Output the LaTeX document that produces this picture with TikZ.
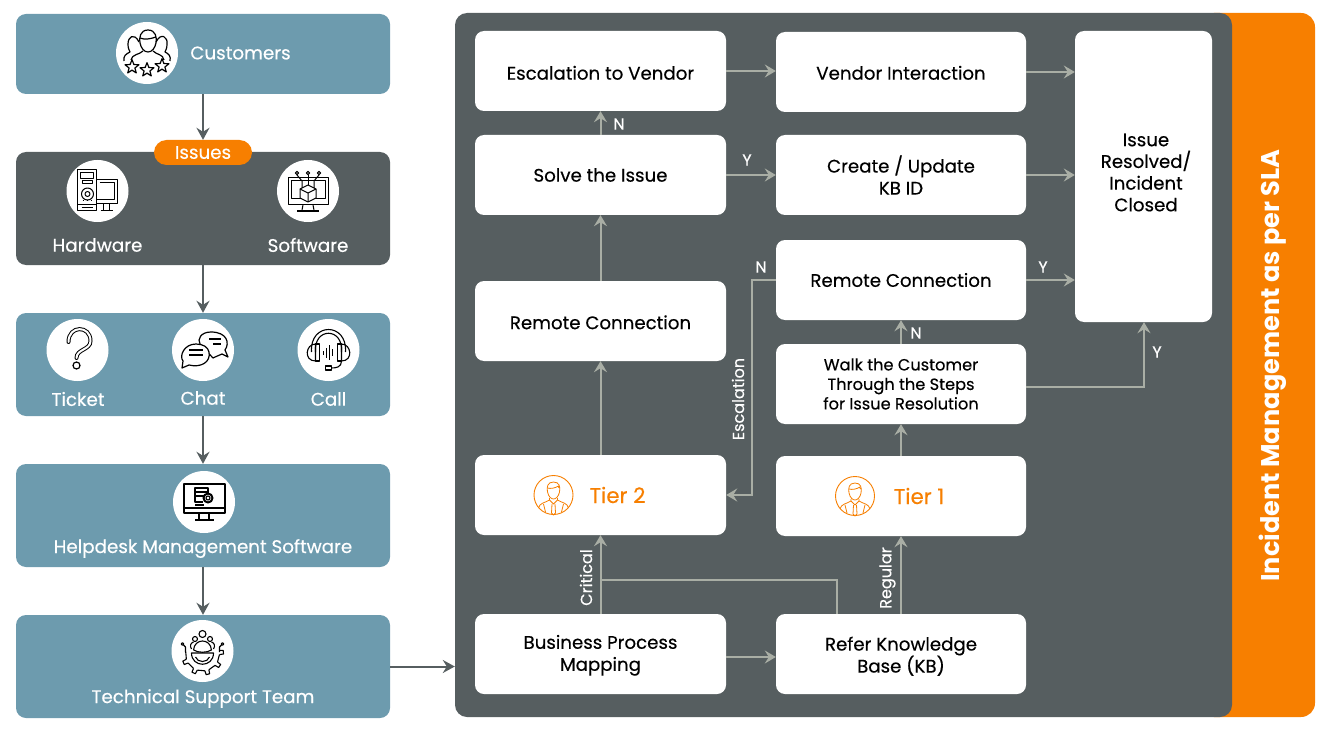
\documentclass[tikz,border=0pt]{standalone}
\usepackage{fontspec}
\setmainfont{Poppins}
\newfontfamily\labelfont{Poppins}[RawFeature={embolden=0.35}]
\usetikzlibrary{arrows.meta,positioning}
\definecolor{tealbox}{HTML}{6D9BAE}
\definecolor{darkbox}{HTML}{565E60}
\definecolor{orangebox}{HTML}{F77F00}
\definecolor{flowgrey}{HTML}{A9AEA5}
\tikzset{
	whitebox/.style={rectangle,fill=white,rounded corners=9pt,inner sep=0pt,align=center,text=black,minimum width=251pt,minimum height=80pt,font=\labelfont\fontsize{18.2}{22}\selectfont},
	leftbox/.style={rectangle,fill=tealbox,rounded corners=10pt,inner sep=0pt,minimum width=374pt,minimum height=103pt},
	iconcircle/.style={circle,fill=white,inner sep=0pt,minimum size=62pt},
	tiercircle/.style={circle,draw=orangebox,line width=.9pt,inner sep=0pt,minimum size=39pt},
	whitelabel/.style={text=white,inner sep=0pt,font=\labelfont\fontsize{18.3}{20}\selectfont},
	smalllabel/.style={text=white,inner sep=0pt,font=\labelfont\fontsize{16}{18}\selectfont},
	tierlabel/.style={text=orangebox,inner sep=0pt,font=\labelfont\fontsize{21.3}{24}\selectfont},
	flow/.style={-{Stealth[length=11pt,width=13pt,inset=4pt]},draw=flowgrey,line width=2pt},
	flowline/.style={-,draw=flowgrey,line width=2pt},
	leftflow/.style={-{Stealth[length=12pt,width=13pt,inset=4pt]},draw=darkbox,line width=2pt},
	iconstar/.pic={\draw[scale=1.12] (0,-6.5) -- (1.7,-2.2) -- (6.2,-2) -- (2.6,.9) -- (3.8,5.3) -- (0,2.8) -- (-3.8,5.3) -- (-2.6,.9) -- (-6.2,-2) -- (-1.7,-2.2) -- cycle;},
	customersart/.pic={
		\begin{scope}[line width=1.2pt,line join=round]
		\draw (-8,-11) .. controls (-13,-21) and (-19,-16) .. (-19,-9) .. controls (-19,-5) and (-18,-3) .. (-17,-1) .. controls (-21,1) and (-24,3) .. (-23,8);
		\draw (9,-11) .. controls (14,-21) and (21,-16) .. (20,-9) .. controls (20,-5) and (19,-3) .. (18,-1) .. controls (22,1) and (24,3) .. (23,8);
		\draw (1,-23) .. controls (-7,-23) and (-8,-15) .. (-7,-10) .. controls (-6,-5) and (-3,-1) .. (1,-1) .. controls (5,-1) and (8,-5) .. (9,-10) .. controls (10,-15) and (9,-23) .. (1,-23);
		\draw (-7,-15) .. controls (-2,-13) and (3,-14) .. (9,-16);
		\draw (-4,-2) .. controls (-8,2) and (-15,1) .. (-16,7);
		\draw (6,-2) .. controls (10,2) and (16,1) .. (17,7);
		\pic at (-15,14) {iconstar};
		\pic at (0,17) {iconstar};
		\pic at (15,13) {iconstar};
		\end{scope}},
	hardwareart/.pic={
		\begin{scope}[line width=1pt,line join=round]
		\draw (-20,-21) rectangle (-1,20);
		\draw (-17,-18) rectangle (-4,-12);
		\draw (-15,-10) rectangle (-5,-7);
		\draw (-10,3) circle [radius=6];
		\draw (-10,3) circle [radius=2.5];
		\draw[dash pattern=on 1.5pt off 2.5pt] (-15,10) -- (-5,10);
		\draw (-20,14) -- (-1,14);
		\draw (-16,17) -- (-5,17);
		\draw (-1,-11) -- (20,-11) -- (20,13) -- (-1,13);
		\draw (2,-8) -- (17,-8) -- (17,9) -- (-1,9);
		\draw (6,13) -- (6,19) (12,13) -- (12,19) (3,19.5) -- (15,19.5);
		\end{scope}},
	softwareart/.pic={
		\begin{scope}[line width=1pt,line join=round]
		\draw (-20,-13) rectangle (20,14);
		\draw (-17,-10) rectangle (17,8);
		\draw (-5,14) -- (-6,19) (5,14) -- (6,19);
		\draw[line width=1.4pt] (-11,20) -- (11,20);
		\draw[fill=white] (0,-6) -- (8,-2) -- (8,7) -- (0,11) -- (-8,7) -- (-8,-2) -- cycle;
		\draw (-8,-2) -- (0,2) -- (8,-2) (0,2) -- (0,11);
		\draw (0,-16) -- (0,-6);
		\draw (-11,-16) -- (-6,-10) -- (-6,-3);
		\draw (11,-16) -- (6,-10) -- (6,-3);
		\foreach \iconx in {-11,0,11}
			\draw[fill=white] (\iconx,-18) circle [radius=1.7];
		\end{scope}},
	ticketart/.pic={
		\draw[line width=4pt,line cap=round] (-9,-8) .. controls (-9,-25) and (13,-25) .. (13,-9) .. controls (13,0) and (-1,-1) .. (-1,8);
		\draw[white,line width=2pt,line cap=round] (-9,-8) .. controls (-9,-25) and (13,-25) .. (13,-9) .. controls (13,0) and (-1,-1) .. (-1,8);
		\draw[line width=1.2pt] (-1,15.5) circle [radius=3.5];},
	chatart/.pic={
		\begin{scope}[line width=1.2pt,line join=round]
		\draw (8,-18) .. controls (-2,-18) and (-6,-11) .. (-3,-6) -- (10,8) .. controls (14,6) and (17,5) .. (19,4) -- (25,7) -- (22,0) .. controls (27,-7) and (24,-18) .. (8,-18);
		\draw[fill=white] (-7,-6) .. controls (-19,-6) and (-24,6) .. (-20,11) -- (-21,18) -- (-14,15) .. controls (-2,18) and (8,12) .. (6,2) .. controls (5,-3) and (0,-6) .. (-7,-6);
		\draw (-14,0) -- (0,0) (-14,5) -- (0,5);
		\draw (6,-11) -- (18,-11) (10,-6) -- (18,-6);
		\end{scope}},
	callart/.pic={
		\begin{scope}[line width=1.1pt,line join=round]
		\draw (-17,2) .. controls (-19,-28) and (19,-28) .. (17,2);
		\draw (-13,2) .. controls (-15,-23) and (15,-23) .. (13,2);
		\draw (-13,-6) .. controls (-23,-6) and (-25,11) .. (-13,11) -- cycle;
		\draw (13,-6) .. controls (23,-6) and (25,11) .. (13,11) -- cycle;
		\draw (-9,-6) rectangle (-13,11);
		\draw (9,-6) rectangle (13,11);
		\draw (-5,1) -- (-5,5) (-2,-2) -- (-2,8) (1,-5) -- (1,10) (4,-1) -- (4,6);
		\draw (13,11) .. controls (13,17) and (8,18) .. (3,18);
		\draw (-3,16) rectangle (3,20);
		\end{scope}},
	helpdeskart/.pic={
		\begin{scope}[line width=1.1pt,line join=round]
		\draw (-20,-18) rectangle (21,11);
		\draw (-20,6) -- (21,6);
		\draw (-5,11) -- (-5,17) (5,11) -- (5,17);
		\draw[line width=1.5pt] (-9,18) -- (10,18);
		\draw (-9,-14) rectangle (4,-6);
		\draw (-9,-10) -- (4,-10);
		\draw (-9,-6) -- (-9,0) -- (-1,0);
		\draw (-9,3) -- (0,3);
		\draw[fill=white,line width=2pt] (4,-4) circle [radius=4.5];
		\draw (4,-4) circle [radius=2];
		\end{scope}},
	supportart/.pic={
		\begin{scope}[shift={(0,3)},line width=1.1pt,line join=round]
		\foreach \geara in {-5,35,75,115,155} {
			\draw ({\geara-7}:17) -- ({\geara-5}:21) -- ({\geara+5}:21) -- ({\geara+7}:17);
			\draw ({\geara+7}:17) -- ({\geara+20}:16.5) -- ({\geara+33}:17);
		}
		\draw (-11,-1) .. controls (-11,14) and (11,14) .. (11,-1) -- cycle;
		\draw (-7,3) .. controls (-5,9) and (5,9) .. (7,3);
		\draw (0,-20) circle [radius=3.5];
		\draw (-7.5,-15) circle [radius=2.5];
		\draw (7.5,-15) circle [radius=2.5];
		\draw (-9,-4) .. controls (-8,-16) and (8,-16) .. (9,-4) .. controls (4,-1) and (-4,-1) .. (-9,-4);
		\draw (-9,-12) .. controls (-12,-11) and (-13,-8) .. (-11,-5);
		\draw (9,-12) .. controls (12,-11) and (13,-8) .. (11,-5);
		\draw (-17,-2) -- (-17,-7) -- (-19,-9) (17,-2) -- (17,-7) -- (19,-9);
		\draw (-20,-10) circle [radius=1.3];
		\draw (20,-10) circle [radius=1.3];
		\end{scope}},
	tierart/.pic={
		\begin{scope}[draw=orangebox,line width=.8pt,line join=round]
		\draw (0,-13) .. controls (-6,-13) and (-7,-8) .. (-6,-3) .. controls (-5,2) and (-2,4) .. (0,4) .. controls (2,4) and (5,2) .. (6,-3) .. controls (7,-8) and (6,-13) .. (0,-13);
		\draw (-6,-7) .. controls (-3,-6) and (2,-7) .. (5,-9) .. controls (5,-8) and (5,-7) .. (6,-7);
		\draw (-4,3) -- (-4,5) -- (0,9) -- (4,5) -- (4,3);
		\draw (-4,5) .. controls (-9,8) and (-14,8) .. (-15,13);
		\draw (4,5) .. controls (9,8) and (14,8) .. (15,13);
		\draw (-1.5,9) -- (-2,18) -- (0,20) -- (2,18) -- (1.5,9);
		\draw (-10,9) -- (-8,17) (10,9) -- (8,17);
		\end{scope}},
}
\begin{document}
\begin{tikzpicture}[x=1pt,y=-1pt,on grid]
	\useasboundingbox (0,0) rectangle (1330,730);

	\node[leftbox,minimum height=80pt] (customers) at (203,54) {};
	\node[leftbox,fill=darkbox,minimum height=113pt] (hwsw) [below=154.5pt of customers] {};
	\node[leftbox] (channels) [below=156pt of hwsw] {};
	\node[leftbox] (helpdesk) [below=151pt of channels] {};
	\node[leftbox] (support) [below=151pt of helpdesk] {};
	\node[fill=orangebox,rounded corners=12.5pt,minimum width=98pt,minimum height=25pt,inner sep=0pt,text=white,font=\labelfont\fontsize{18.3}{20}\selectfont] (issues) at (203,152.5) {Issues};

	\node[iconcircle] (customersicon) at (147,53) {};
	\node[iconcircle] (hardwareicon) at (97.5,191) {};
	\node[iconcircle] (softwareicon) at (308,191) {};
	\node[iconcircle] (ticketicon) at (77.5,350) {};
	\node[iconcircle] (chaticon) at (203,350) {};
	\node[iconcircle] (callicon) at (328.5,350) {};
	\node[iconcircle] (helpdeskicon) at (204,502) {};
	\node[iconcircle] (supporticon) at (202.5,651) {};
	\pic at (customersicon) {customersart};
	\pic at (hardwareicon) {hardwareart};
	\pic at (softwareicon) {softwareart};
	\pic at (ticketicon) {ticketart};
	\pic at (chaticon) {chatart};
	\pic at (callicon) {callart};
	\pic at (helpdeskicon) {helpdeskart};
	\pic at (supporticon) {supportart};

	\node[whitelabel] (customerstext) at (240.5,53) {Customers};
	\node[whitelabel] (hardwaretext) at (97.5,245) {Hardware};
	\node[whitelabel] (softwaretext) at (308,245) {Software};
	\node[whitelabel] (tickettext) at (78,399) {Ticket};
	\node[whitelabel] (chattext) at (203,398) {Chat};
	\node[whitelabel] (calltext) at (328.5,399) {Call};
	\node[whitelabel] (helpdesktext) at (203,548.5) {Helpdesk Management Software};
	\node[whitelabel] (supporttext) at (203,698.5) {Technical Support Team};

	\node[rectangle,fill=orangebox,rounded corners=14pt,minimum width=115pt,minimum height=704pt,inner sep=0pt] (slabar) at (1257.5,365) {};
	\node[rectangle,fill=darkbox,rounded corners=12pt,minimum width=777pt,minimum height=704pt,inner sep=0pt] (panel) at (843.5,365) {};
	\node[rotate=90,text=white,inner sep=0pt,font=\bfseries\fontsize{25.6}{28}\selectfont] (slatext) at (1273,365.5) {Incident Management as per SLA};

	\node[whitebox] (bpm) at (600.5,654) {\rule{0pt}{16.5pt}Business Process\\Mapping};
	\node[whitebox,minimum width=250pt] (kb) [right=300.5pt of bpm] {\rule{0pt}{18.5pt}Refer Knowledge\\Base (KB)};
	\node[whitebox] (tiertwo) [above=159pt of bpm] {};
	\node[whitebox] (remoteleft) [above=174pt of tiertwo] {\rule{0pt}{16.5pt}Remote Connection};
	\node[whitebox] (solve) [above=146pt of remoteleft] {Solve the Issue};
	\node[whitebox] (escalation) [above=104pt of solve] {\rule{0pt}{17.5pt}Escalation to Vendor};
	\node[whitebox,minimum width=250pt] (tierone) [above=158pt of kb] {};
	\node[whitebox,minimum width=250pt,font=\labelfont\fontsize{16.2}{19.5}\selectfont] (walk) [above=112pt of tierone] {Walk the Customer\\Through the Steps\\for Issue Resolution};
	\node[whitebox,minimum width=250pt] (remoteright) [above=104pt of walk] {Remote Connection};
	\node[whitebox,minimum width=250pt] (create) [above=105pt of remoteright] {Create / Update\\KB ID};
	\node[whitebox,minimum width=250pt] (vendor) [above=103pt of create] {\rule{0pt}{15.5pt}Vendor Interaction};
	\node[whitebox,minimum width=137pt,minimum height=291pt] (closed) at (1143.5,176.5) {};
	\node[inner sep=0pt,align=center,font=\labelfont\fontsize{18.2}{21.7}\selectfont] (closedtext) at (1146,172.5) {Issue\\Resolved/\\Incident\\Closed};

	\node[tiercircle] (tiertwoicon) [left=47pt of tiertwo] {};
	\node[tiercircle] (tieroneicon) [left=46pt of tierone] {};
	\pic at (tiertwoicon) {tierart};
	\pic at (tieroneicon) {tierart};
	\node[tierlabel] (tiertwotext) [right=17pt of tiertwo] {Tier 2};
	\node[tierlabel] (tieronetext) [right=18pt of tierone] {Tier 1};

	\coordinate (kbtap) at (837,614);
	\coordinate (criticaljoin) at (600.5,580);
	\coordinate (escalationturn) at (752,280);

	\path (customers.south) edge [leftflow] (issues.north)
		  (hwsw)     edge [leftflow]    (channels)
		  (channels) edge [leftflow]    (helpdesk)
		  (helpdesk) edge [leftflow]    (support)
		  (support.east) edge [leftflow] (support.east -| panel.west);

	\path ([yshift=-3pt]bpm.east) edge [flow] ([yshift=-3pt]kb.west)
		  (bpm)      edge [flow]    (tiertwo)
		  (kb)       edge [flow]    (tierone)
		  (tierone)  edge [flow]    (walk)
		  (walk)     edge [flow]    (remoteright)
		  (tiertwo)  edge [flow]    (remoteleft)
		  (remoteleft) edge [flow]  (solve)
		  (solve)    edge [flow]    (escalation)
		  (solve)    edge [flow]    (create)
		  (escalation.east) edge [flow] (escalation.east -| vendor.west)
		  (vendor.east) edge [flow] (vendor.east -| closed.west)
		  (create.east) edge [flow] (create.east -| closed.west)
		  (remoteright.east) edge [flow] (remoteright.east -| closed.west);
	\draw[flowline] (kbtap) |- (criticaljoin);
	\draw[flow] (remoteright.west) -- (escalationturn) |- (tiertwo.east);
	\draw[flow] ([yshift=-3pt]walk.east) -| ([xshift=.5pt]closed.south);

	\node[smalllabel] (nescal) at (619,124) {N};
	\node[smalllabel] (ycreate) at (747,160) {Y};
	\node[smalllabel] (nremote) at (761,267) {N};
	\node[smalllabel] (yremote) at (1043,267) {Y};
	\node[smalllabel] (nwalk) at (916,333) {N};
	\node[smalllabel] (ywalk) at (1157,352) {Y};
	\node[smalllabel,rotate=90] (escaltext) at (738,399) {Escalation};
	\node[smalllabel,rotate=90] (criticaltext) at (586,577.5) {Critical};
	\node[smalllabel,rotate=90] (regulartext) at (887.5,578) {Regular};
\end{tikzpicture}
\end{document}
